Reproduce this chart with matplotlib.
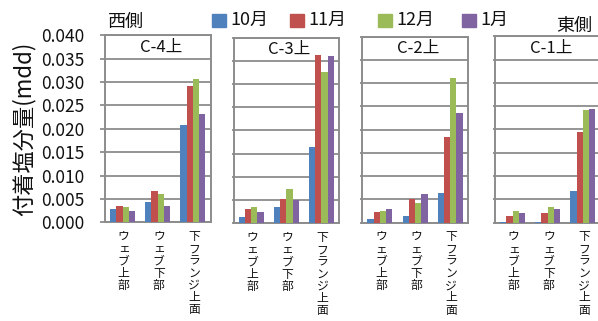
import matplotlib
matplotlib.use("Agg")
import matplotlib.pyplot as plt
from matplotlib.patches import Rectangle
import numpy as np

plt.rcParams['font.family'] = ['Noto Sans CJK JP', 'DejaVu Sans']

# --- data -------------------------------------------------------------
panels = ["C-4上", "C-3上", "C-2上", "C-1上"]
categories = ["ウェブ上部", "ウェブ下部", "下フランジ上面"]
months = ["10月", "11月", "12月", "1月"]
colors = ["#4F81BD", "#C0504D", "#9BBB59", "#8064A2"]

# values[panel][month][category]  (mdd)
c4 = [[0.0028, 0.0044, 0.0208],
      [0.0035, 0.0068, 0.0291],
      [0.0033, 0.0061, 0.0307],
      [0.0024, 0.0035, 0.0231]]
c3 = [[0.0014, 0.0035, 0.0164],
      [0.0030, 0.0052, 0.0362],
      [0.0035, 0.0073, 0.0326],
      [0.0025, 0.0050, 0.0360]]
c2 = [[0.0008, 0.0014, 0.0064],
      [0.0024, 0.0051, 0.0184],
      [0.0025, 0.0043, 0.0311],
      [0.0029, 0.0061, 0.0236]]
c1 = [[0.0002, 0.0002, 0.0068],
      [0.0014, 0.0021, 0.0195],
      [0.0025, 0.0034, 0.0241],
      [0.0021, 0.0029, 0.0244]]
values = [c4, c3, c2, c1]

yticks = [0.000, 0.005, 0.010, 0.015, 0.020, 0.025, 0.030, 0.035, 0.040]
ytick_labels = ["0.000", "0.005", "0.010", "0.015", "0.020",
                "0.025", "0.030", "0.035", "0.040"]

# --- layout (pixels) --------------------------------------------------
W, H = 598, 321
fig = plt.figure(figsize=(W / 100, H / 100), dpi=100)

def fx(px):
    return px / W

def fy(py):
    return 1 - py / H

# left edge, top, bottom of each panel box
boxes = [(105.0, 35.2, 222.4),
         (233.5, 37.5, 223.3),
         (362.3, 36.7, 222.7),
         (495.0, 36.2, 222.7)]
pw = 105.5
grid_col = "#8C8C8C"
bw = 0.178
x = np.arange(len(categories))

for i, (left, top, base) in enumerate(boxes):
    ax = fig.add_axes([fx(left), fy(base), pw / W, (base - top) / H])
    for k in range(len(months)):
        ax.bar(x + (k - 1.5) * bw, values[i][k], width=bw, color=colors[k],
               zorder=3, linewidth=0)
    ax.set_xlim(-0.5, 2.5)
    ax.set_ylim(0, 0.040)
    ax.set_yticks(yticks)
    ax.yaxis.grid(True, color=grid_col, linewidth=1.3, zorder=0)
    ax.set_axisbelow(True)
    for s in ax.spines.values():
        s.set_color(grid_col)
        s.set_linewidth(1.4)
    ax.set_xticks([])
    ax.tick_params(axis='y', direction='out', color=grid_col, width=1.3,
                   length=3.5 if i == 0 else 1.5)
    if i == 0:
        ax.set_yticklabels(ytick_labels, fontsize=12.5, color="#111111")
        ax.tick_params(axis='y', pad=11)
    else:
        ax.set_yticklabels([])
    ax.text(0.53, 0.9375, panels[i], transform=ax.transAxes,
            ha='center', va='center', fontsize=12, color="#111111")
    for j, cat in enumerate(categories):
        ax.annotate("\n".join(cat), xy=(x[j] + 0.03, 0),
                    xycoords=('data', 'axes fraction'),
                    xytext=(0, -5.5), textcoords='offset points',
                    ha='center', va='top', fontsize=8.5,
                    linespacing=0.92, color="#111111",
                    annotation_clip=False)

# side labels
fig.text(fx(126), fy(22), "西側", ha='center', va='center', fontsize=13,
         color="#111111")
fig.text(fx(574), fy(26), "東側", ha='center', va='center', fontsize=13,
         color="#111111")

# legend
leg_sq = [212, 290, 378, 462]
for k, m in enumerate(months):
    fig.patches.append(Rectangle((fx(leg_sq[k]), fy(27)), 14 / W, 13 / H,
                                 transform=fig.transFigure,
                                 color=colors[k]))
    fig.text(fx(leg_sq[k] + 18), fy(20), m, ha='left', va='center',
             fontsize=13, color="#111111")

# y axis title
fig.text(fx(24), fy(129), "付着塩分量(mdd)", rotation=90, ha='center',
         va='center', fontsize=16, color="#111111")

fig.savefig("out.png", dpi=100)
